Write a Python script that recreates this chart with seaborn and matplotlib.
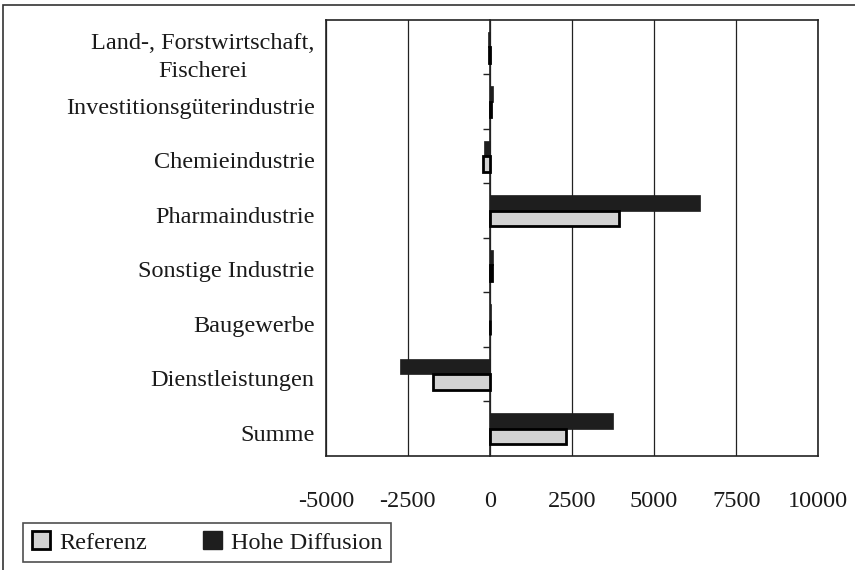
import numpy as np
import pandas as pd
import matplotlib.pyplot as plt
import matplotlib.transforms as mtransforms
import seaborn as sns
from matplotlib.patches import Patch, Rectangle

categories = ['Land-, Forstwirtschaft,\nFischerei', 'Investitionsgüterindustrie', 'Chemieindustrie',
              'Pharmaindustrie', 'Sonstige Industrie', 'Baugewerbe', 'Dienstleistungen', 'Summe']
referenz = [-30, 30, -200, 3940, 50, 10, -1720, 2330]
hohe_diffusion = [-50, 80, -180, 6410, 100, 20, -2740, 3750]
x_ticks = [-5000, -2500, 0, 2500, 5000, 7500, 10000]

df = pd.DataFrame({
    'Sektor': categories * 2,
    'Wert': hohe_diffusion + referenz,
    'Szenario': ['Hohe Diffusion'] * len(categories) + ['Referenz'] * len(categories),
})

sns.set_theme(style='white')
plt.rcParams['font.family'] = ['Liberation Serif', 'DejaVu Serif']
fs = 17.5

fig = plt.figure(figsize=(8.55, 5.7), dpi=100)
ax = fig.add_axes([0.381, 0.2, 0.576, 0.765])

palette = {'Hohe Diffusion': '#1e1e1e', 'Referenz': '#d2d2d2'}
sns.barplot(data=df, y='Sektor', x='Wert', hue='Szenario', orient='h',
            hue_order=['Hohe Diffusion', 'Referenz'], palette=palette,
            width=0.57, saturation=1, legend=False, ax=ax)

# thick outline on the light bars
for bar in ax.containers[1]:
    bar.set_edgecolor('black')
    bar.set_linewidth(2)
for bar in ax.containers[0]:
    bar.set_edgecolor('#1e1e1e')
    bar.set_linewidth(0.5)

ax.set_xlim(-5000, 10000)
ax.set_xticks(x_ticks)
ax.set_xticklabels([str(t) for t in x_ticks])
ax.grid(axis='x', color='#222222', linewidth=0.9)
ax.grid(axis='y', visible=False)
ax.set_axisbelow(True)
ax.set_xlabel('')
ax.set_ylabel('')
ax.tick_params(axis='x', length=0, pad=25, labelsize=fs, labelcolor='#1a1a1a')
ax.tick_params(axis='y', length=0, pad=8, labelsize=fs, labelcolor='#1a1a1a')
shift = mtransforms.ScaledTranslation(0, -3 / 72, fig.dpi_scale_trans)
for lab in ax.get_yticklabels():
    lab.set_transform(lab.get_transform() + shift)
ax.get_yticklabels()[0].set_multialignment('center')
ax.get_yticklabels()[0].set_linespacing(1.45)
for s in ax.spines.values():
    s.set_color('#222222')
    s.set_linewidth(1.2)

# category axis crossing at zero, with ticks between categories
sec = ax.secondary_yaxis(1 / 3)
sec.set_yticks(np.arange(len(categories) - 1) + 0.5)
sec.set_yticklabels([])
sec.tick_params(axis='y', direction='out', length=5, width=1, color='#222222')
sec.spines['left'].set_color('#222222')
sec.spines['left'].set_linewidth(1.2)

handles = [Patch(facecolor='#d2d2d2', edgecolor='black', linewidth=2, label='Referenz'),
           Patch(facecolor='#1e1e1e', edgecolor='#1e1e1e', label='Hohe Diffusion')]
leg = fig.legend(handles=handles, loc='lower left', bbox_to_anchor=(0.027, 0.014), ncol=2,
                 frameon=True, fancybox=False, edgecolor='#222222', fontsize=fs,
                 handlelength=0.75, handleheight=0.75, handletextpad=0.4, columnspacing=2.3,
                 borderpad=0.35, borderaxespad=0, labelcolor='#1a1a1a')
leg.get_frame().set_linewidth(1.2)

fig.patches.append(Rectangle((0.004, -0.1), 1.2, 1.091, transform=fig.transFigure,
                             fill=False, edgecolor='#333333', linewidth=1.2))

fig.savefig('out.png', dpi=100)
